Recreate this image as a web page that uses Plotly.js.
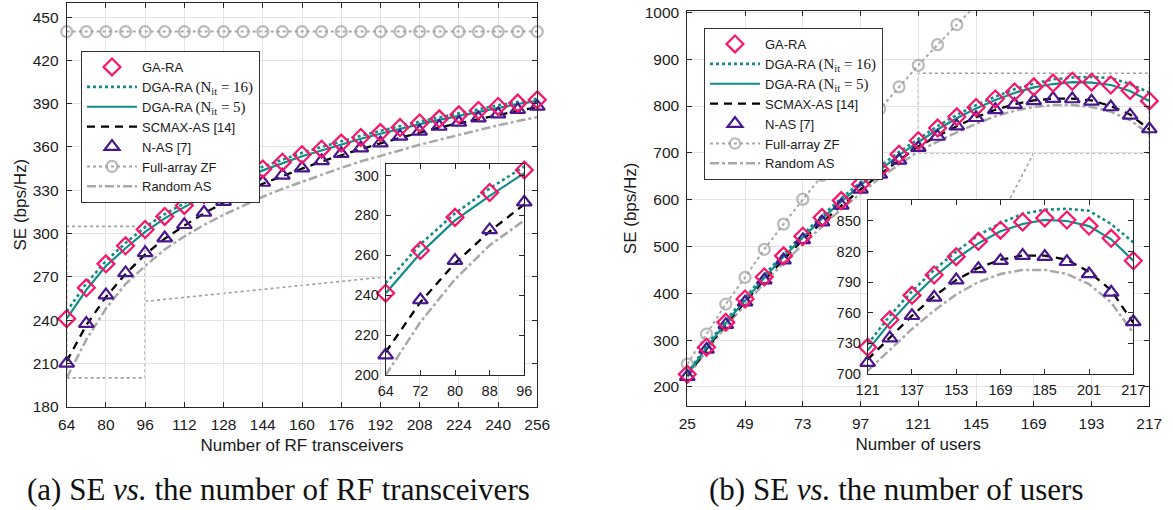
<!DOCTYPE html>
<html><head><meta charset="utf-8">
<script src="https://cdn.plot.ly/plotly-3.0.1.min.js"></script>
<style>html,body{margin:0;padding:0;background:#fff}#chart{width:1173px;height:510px}</style>
</head><body><div id="chart"></div>
<script>
// ---------- (a) SE vs number of RF transceivers ----------
const xRF = [64,72,80,88,96,104,112,120,128,136,144,152,160,168,176,184,192,200,208,216,224,232,240,248,256];
const gaRA_a   = [241,262.4,279,291.5,302.8,311.9,319.5,327,333.5,339.5,344.8,349.5,354.6,358.5,362.7,366.6,370,373.5,376.6,379.5,382.3,385.3,388.1,390.4,392.7];
const dga16_a  = [246,265.5,281,293.5,304.5,313.5,321,328.5,335,341,346.3,351,356,360,364,367.8,371.2,374.6,377.6,380.5,383.3,386.2,388.9,391.2,393.4];
const dga5_a   = [241,261,277.5,289.8,301.2,310.5,318.3,325.8,332.5,338.5,343.8,348.6,353.6,357.6,361.8,365.7,369.2,372.7,375.8,378.8,381.6,384.6,387.4,389.8,392];
const scmax_a  = [211.5,236.5,256,272,285.5,296.5,305.5,314,321.5,328.5,334.5,340,345,350,354.5,358.5,362.5,366.5,370,373.5,376.5,379.5,382.3,385,387.5];
const nas_a    = [210,237.6,257.3,272.7,286.6,296.9,306.1,314.6,322.2,328.7,335.4,340.3,345.4,350.4,355.3,359.2,362.7,367.3,370.8,374.2,377,380,382.8,385.8,388.1];
const zf_a     = [440,440,440,440,440,440,440,440,440,440,440,440,440,440,440,440,440,440,440,440,440,440,440,440,440];
const rand_a   = [200,226.5,248,265,277.5,289,298,306,313,319.5,325.5,331,336,341,345.5,350,354,358,361.5,365,368.5,372,375,378,380.7];

// ---------- (b) SE vs number of users ----------
const xU = [25,33,41,49,57,65,73,81,89,97,105,113,121,129,137,145,153,161,169,177,185,193,201,209,217];
const gaRA_b   = [227,285,338,388,435,480,522,562,598,633,665,697,726,753,777,797,815,830,841,849,853,851,845,833,811];
const dga16_b  = [229,288,342,391,439,484,526,566,603,638,671,702,729,757,781,802,820,836,848,857,861,862,860,847,829];
const dga5_b   = [226,284,337,386,433,478,520,560,596,631,663,695,723,750,774,795,813,828,840,847,851,850,845,832,811];
const scmax_b  = [223,281,334,382,429,472,514,552,588,622,654,685,714,736,757,776,792,804,812,816,816,812,800,782,750];
const nas_b    = [222,280,333,381,428,471,514,552,588,622,654,684,711,735,757,775,792,803,811,816,815,810,798,780,751];
const zf_b     = [249,313,377,434,494,548,601,652,700,747,794,841,887,931,974,1016];
const rand_b   = [221,277,329,376,422,465,505,543,580,614,646,675,703,724,744,762,778,790,798,802,802,798,788,770,740];

// ---------- text ----------
const SERIF = 'font-family:\'Liberation Serif\',serif;font-size:15px';
const names = {
  ga: 'GA-RA',
  d16: 'DGA-RA <span style="' + SERIF + '">(N<sub>it</sub> = 16)</span>',
  d5: 'DGA-RA <span style="' + SERIF + '">(N<sub>it</sub> = 5)</span>',
  sc: 'SCMAX-AS [14]',
  nas: 'N-AS [7]',
  zf: 'Full-array ZF',
  rnd: 'Random AS'
};
const xTitleA = 'Number of RF transceivers';
const xTitleB = 'Number of users';
const yTitle = 'SE (bps/Hz)';
const capA = '(a) SE <i>vs.</i> the number of RF transceivers';
const capB = '(b) SE <i>vs.</i> the number of users';

// ---------- styles ----------
const C = {pink:'#f8146a', teal:'#118c8a', purple:'#4a168f', black:'#000000', gray:'#9c9c9c', ltgray:'#a8a8a8'};
const FONT = 'Liberation Sans, Arial, sans-serif';

function sl(arr, a, b){ return arr.slice(a, b); }

function makeSet(x, d, xa, ya, leg, show, cut){
  const pick = a => cut ? sl(a, cut[0], cut[1]) : a;
  const xs = pick(x);
  const tr = [];
  tr.push({x: xs, y: pick(d.rnd), xaxis: xa, yaxis: ya, mode:'lines', name:names.rnd, legend:leg, showlegend:show, legendrank:7,
           line:{color:C.ltgray, width:2.5, dash:'dashdot'}, cliponaxis:false, hoverinfo:'skip'});
  if (d.zf) {
    const zx = x.slice(0, d.zf.length);
    const sizes = d.zf.map(v => v > d.ymax ? 0 : 11);
    tr.push({x: zx, y: d.zf, xaxis: xa, yaxis: ya, mode:'lines+markers', name:names.zf, legend:leg, showlegend:show, legendrank:6,
             line:{color:C.ltgray, width:2, dash:'dot'}, marker:{symbol:'circle-open', size:sizes, color:C.gray, line:{width:2.2, color:C.gray}}, cliponaxis:false, hoverinfo:'skip'});
  }
  tr.push({x: xs, y: pick(d.sc), xaxis: xa, yaxis: ya, mode:'lines', name:names.sc, legend:leg, showlegend:show, legendrank:4,
           line:{color:C.black, width:2.3, dash:'8px,6px'}, hoverinfo:'skip'});
  tr.push({x: xs, y: pick(d.d5), xaxis: xa, yaxis: ya, mode:'lines', name:names.d5, legend:leg, showlegend:show, legendrank:3,
           line:{color:C.teal, width:2.2}, hoverinfo:'skip'});
  tr.push({x: xs, y: pick(d.d16), xaxis: xa, yaxis: ya, mode:'lines', name:names.d16, legend:leg, showlegend:show, legendrank:2,
           line:{color:C.teal, width:2.6, dash:'dot'}, hoverinfo:'skip'});
  tr.push({x: xs, y: pick(d.nas), xaxis: xa, yaxis: ya, mode:'markers', name:names.nas, legend:leg, showlegend:show, legendrank:5,
           marker:{symbol:'triangle-up-open', size:13, color:C.purple, line:{width:2.2, color:C.purple}}, cliponaxis:false, hoverinfo:'skip'});
  tr.push({x: xs, y: pick(d.ga), xaxis: xa, yaxis: ya, mode:'markers', name:names.ga, legend:leg, showlegend:show, legendrank:1,
           marker:{symbol:'diamond-open', size:13, color:C.pink, line:{width:2.2, color:C.pink}}, cliponaxis:false, hoverinfo:'skip'});
  return tr;
}

const dA = {ga:gaRA_a, d16:dga16_a, d5:dga5_a, sc:scmax_a, nas:nas_a, zf:zf_a, rnd:rand_a, ymax:460};
const dB = {ga:gaRA_b, d16:dga16_b, d5:dga5_b, sc:scmax_b, nas:nas_b, zf:zf_b, rnd:rand_b, ymax:1003};
const dAi = Object.assign({}, dA, {zf:null});
const dBi = Object.assign({}, dB, {zf:null});

const traces = [].concat(
  makeSet(xRF, dA, 'x', 'y', 'legend', true, null),
  makeSet(xU, dB, 'x2', 'y2', 'legend2', true, null),
  makeSet(xRF, dAi, 'x3', 'y3', 'legend', false, [0,5]),
  makeSet(xU, dBi, 'x4', 'y4', 'legend2', false, [12,25])
);

const W = 1173, H = 510;
const px = v => v / W, py = v => (H - v) / H;
const AX = '#262626';
function mainAxis(extra){
  return Object.assign({
    showline:true, linecolor:AX, linewidth:1, mirror:'ticks', ticks:'inside', ticklen:5, tickcolor:AX,
    showgrid:true, gridcolor:'#e3e3e3', gridwidth:1, zeroline:false, tickfont:{family:FONT, size:15.5, color:'#1a1a1a'},
    ticklabelstandoff:4, fixedrange:true
  }, extra);
}
function insetAxis(extra){
  return Object.assign({
    showline:true, linecolor:AX, linewidth:1, mirror:'ticks', ticks:'inside', ticklen:5, tickcolor:AX,
    showgrid:false, zeroline:false, tickfont:{family:FONT, size:14.5, color:'#1a1a1a'}, ticklabelstandoff:3, fixedrange:true
  }, extra);
}
const titleFont = {family:FONT, size:17, color:'#1a1a1a'};

const dot = {color:'#a0a0a0', width:1.6, dash:'dot'};
const layout = {
  width:W, height:H, margin:{l:0,r:0,t:0,b:0}, paper_bgcolor:'#fff', plot_bgcolor:'#fff',
  font:{family:FONT, color:'#1a1a1a'},
  xaxis: mainAxis({domain:[px(66.7), px(537.3)], range:[64,256], tickvals:[64,80,96,112,128,144,160,176,192,208,224,240,256],
    title:{text:xTitleA, font:titleFont, standoff:6}, anchor:'y'}),
  yaxis: mainAxis({domain:[py(406.7), py(2.7)], range:[180,460], tickvals:[180,210,240,270,300,330,360,390,420,450],
    title:{text:yTitle, font:titleFont, standoff:1}, anchor:'x'}),
  xaxis2: mainAxis({domain:[px(687.3), px(1149.3)], range:[25,217], tickvals:[25,49,73,97,121,145,169,193,217],
    title:{text:xTitleB, font:titleFont, standoff:6}, anchor:'y2'}),
  yaxis2: mainAxis({domain:[py(405.7), py(11)], range:[160,1003], tickvals:[200,300,400,500,600,700,800,900,1000],
    title:{text:yTitle, font:titleFont, standoff:3}, anchor:'x2'}),
  xaxis3: insetAxis({domain:[px(385.7), px(524.3)], range:[64,96], tickvals:[64,72,80,88,96], anchor:'y3'}),
  yaxis3: insetAxis({domain:[py(375), py(164.3)], range:[200,305.6], tickvals:[200,220,240,260,280,300], anchor:'x3'}),
  xaxis4: insetAxis({domain:[px(867.7), px(1133.3)], range:[121,217], tickvals:[121,137,153,169,185,201,217], anchor:'y4'}),
  yaxis4: insetAxis({domain:[py(373.8), py(200)], range:[700,870.6], tickvals:[700,730,760,790,820,850], anchor:'x4'}),
  legend: {x:px(81), y:py(51), xanchor:'left', yanchor:'top', bgcolor:'#fff', bordercolor:'#333', borderwidth:1,
    font:{family:FONT, size:13, color:'#1a1a1a'}, itemwidth:50, tracegroupgap:0, traceorder:'normal'},
  legend2: {x:px(704), y:py(28), xanchor:'left', yanchor:'top', bgcolor:'#fff', bordercolor:'#333', borderwidth:1,
    font:{family:FONT, size:13, color:'#1a1a1a'}, itemwidth:50, tracegroupgap:0, traceorder:'normal'},
  shapes: [
    {type:'rect', xref:'x', yref:'y', x0:64, x1:96, y0:200, y1:305, line:dot, layer:'below'},
    {type:'line', xref:'x', yref:'y', x0:96, y0:253, x1:194.2, y1:270, line:dot, layer:'below'},
    {type:'rect', xref:'x2', yref:'y2', x0:121, x1:217, y0:700, y1:870, line:dot, layer:'below'},
    {type:'line', xref:'x2', yref:'y2', x0:169, y0:700, x1:158.9, y1:600, line:dot, layer:'below'}
  ],
  annotations: [
    {text:capA, xref:'paper', yref:'paper', x:px(278.5), y:py(489), xanchor:'center', yanchor:'middle', showarrow:false,
     font:{family:'Liberation Serif, serif', size:31, color:'#111'}},
    {text:capB, xref:'paper', yref:'paper', x:px(896), y:py(489), xanchor:'center', yanchor:'middle', showarrow:false,
     font:{family:'Liberation Serif, serif', size:31, color:'#111'}}
  ]
};

Plotly.newPlot('chart', traces, layout, {displayModeBar:false, staticPlot:true});
</script>
</body></html>
